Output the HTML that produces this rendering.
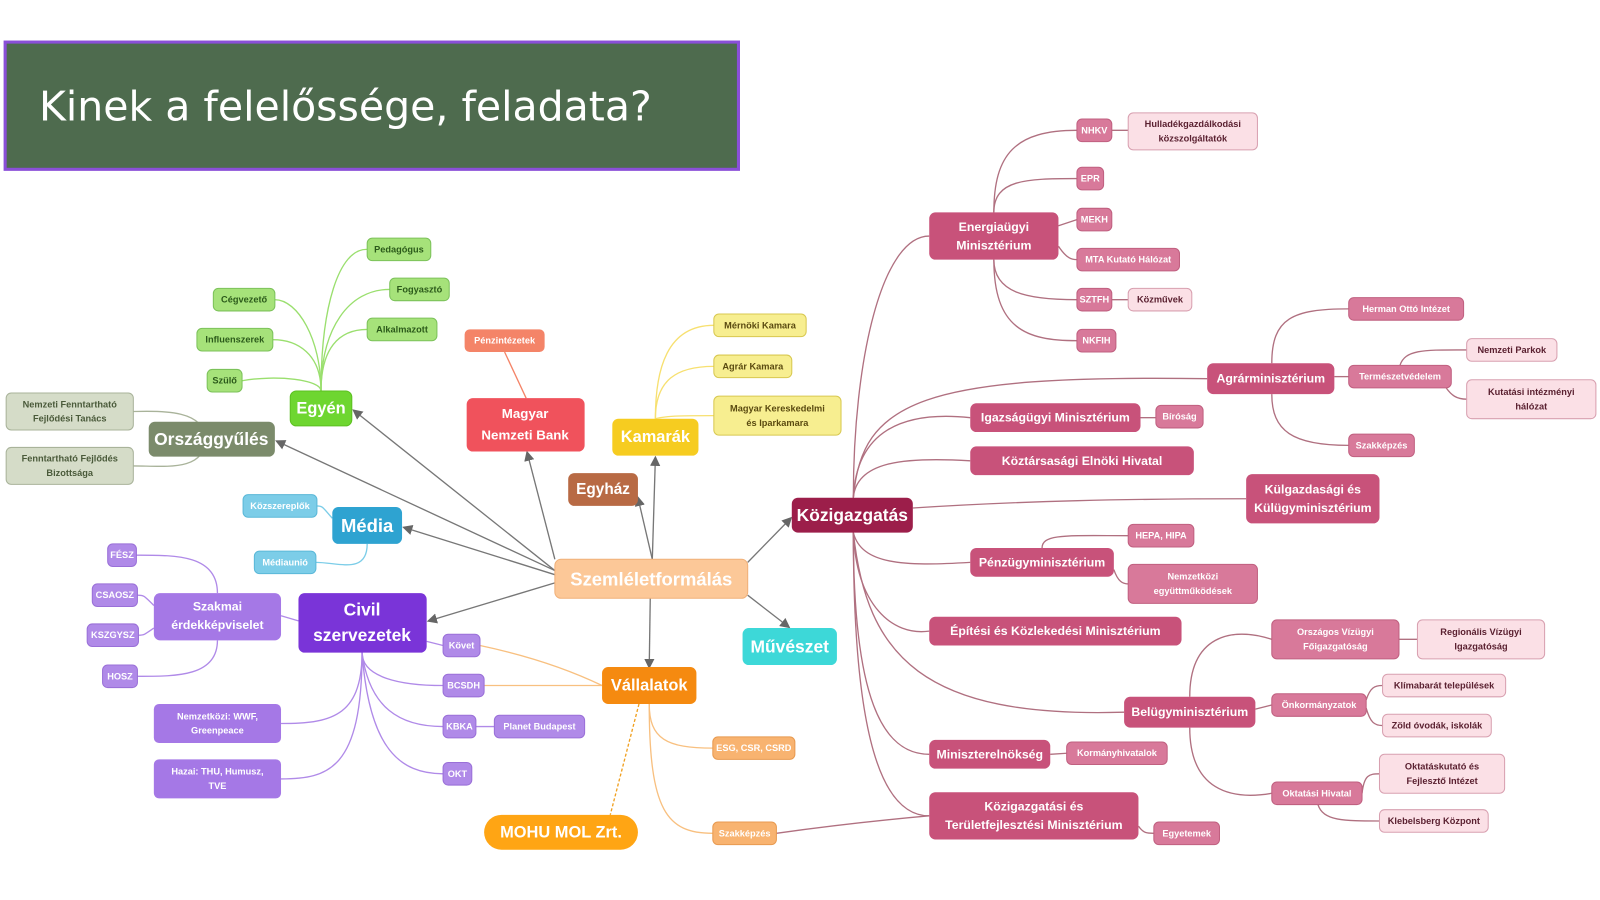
<!DOCTYPE html>
<html><head><meta charset="utf-8"><style>
html,body{margin:0;padding:0;background:#fff;width:1600px;height:900px;overflow:hidden}
svg text{font-family:"Liberation Sans","DejaVu Sans",sans-serif;font-weight:bold;text-anchor:middle;dominant-baseline:central}
</style></head><body>
<svg width="1600" height="900" viewBox="0 0 1560 877" preserveAspectRatio="none" xmlns="http://www.w3.org/2000/svg">
<defs><marker id="ar" markerWidth="10" markerHeight="10" refX="8" refY="5" orient="auto" markerUnits="userSpaceOnUse"><path d="M0,0 L10,5 L0,10 z" fill="#666"/></marker></defs>
<rect x="5" y="41" width="715" height="124" fill="#4e6b4e" stroke="#8a4fd8" stroke-width="3"/>
<text x="38" y="104" style="text-anchor:start;font-weight:normal;font-family:'DejaVu Sans','Liberation Sans',sans-serif" font-size="40" fill="#fff">Kinek a felelőssége, feladata?</text>

<g fill="none" stroke-width="1.3">
<!-- green -->
<g stroke="#9adf6e">
<path d="M313 381 C313 300,330 242,358 243"/><path d="M313 381 C313 320,340 282,380 282"/>
<path d="M313 381 C313 330,290 292,268 292"/><path d="M313 381 C313 340,330 321,358 321"/>
<path d="M313 381 C313 345,290 331,266 331"/><path d="M313 381 C313 370,270 365,236 371"/>
</g>
<g stroke="#a9b39a"><path d="M200 428 C200 400,160 400,130 401"/><path d="M200 428 C200 460,160 454,130 454"/></g>
<g stroke="#7ccde8"><path d="M324 505 C315 495,315 493,309 493"/><path d="M358 530 C358 560,330 548,308 548"/></g>
<g stroke="#b08ae8">
<path d="M212 578 C212 540,170 541,133 541"/><path d="M150 590 C140 580,140 580,134 580"/>
<path d="M150 612 C140 619,140 619,135 619"/><path d="M212 624 C212 660,170 659,134 659"/>
<path d="M274 600 L291 605"/>
<path d="M353 636 C353 700,320 705,274 705"/><path d="M353 636 C353 750,320 759,274 759"/>
<path d="M416 625 L432 629"/><path d="M353 636 C353 660,390 668,432 668"/>
<path d="M353 636 C360 690,390 708,432 708"/><path d="M353 636 C360 730,390 754,432 754"/>
<path d="M464 708 L482 708"/>
</g>
<g stroke="#f48468"><path d="M513 388 L492 343"/></g>
<g stroke="#f7e070"><path d="M639 408 C639 360,650 317,696 317"/><path d="M639 408 C639 370,660 357,696 357"/><path d="M639 408 C650 405,670 405,696 405"/></g>
<g stroke="#f8c080"><path d="M468 629 C520 640,560 655,587 668"/><path d="M472 668 L587 668"/>
<path d="M623 686 L595 794" stroke="#f0a020" stroke-dasharray="3 2"/>
<path d="M633 686 C633 720,650 729,695 729"/><path d="M633 686 C633 790,650 812,695 812"/></g>
<!-- pink -->
<g stroke="#b07080">
<path d="M832 485 C832 350,860 230,906 230"/>
<path d="M969 207 C969 150,990 127,1050 127"/><path d="M969 207 C969 175,1000 174,1050 174"/>
<path d="M1032 220 L1050 214"/><path d="M1032 240 C1040 252,1045 253,1050 253"/>
<path d="M969 253 C969 285,1000 292,1050 292"/><path d="M969 253 C969 320,1000 332,1050 332"/>
<path d="M1084 127 L1100 127"/><path d="M1084 292 L1100 292"/>
<path d="M832 485 C840 390,900 365,1177 369"/>
<path d="M1240 354 C1240 310,1260 301,1315 301"/><path d="M1301 367 L1315 367"/>
<path d="M1240 384 C1240 420,1260 434,1315 434"/>
<path d="M1365 356 C1370 340,1390 341,1430 341"/><path d="M1410 378 C1415 385,1420 389,1430 389"/>
<path d="M832 485 C835 420,880 400,946 407"/><path d="M1112 407 L1127 407"/>
<path d="M832 485 C835 450,880 445,946 449"/>
<path d="M890 495 C1000 488,1100 486,1215 486"/>
<path d="M832 519 C840 550,880 552,946 548"/>
<path d="M1016 534 C1016 520,1040 522,1100 522"/><path d="M1086 555 C1090 567,1095 569,1100 569"/>
<path d="M832 519 C835 590,870 620,906 615"/>
<path d="M832 519 C845 640,900 700,1096 694"/>
<path d="M1160 679 C1160 620,1200 610,1240 623"/><path d="M1224 691 L1240 687"/>
<path d="M1160 709 C1160 770,1200 780,1240 773"/>
<path d="M1332 682 C1336 670,1340 668,1348 668"/><path d="M1332 690 C1336 704,1340 707,1348 707"/>
<path d="M1364 623 L1382 623"/>
<path d="M1328 773 C1330 755,1335 754,1345 754"/><path d="M1285 784 C1290 800,1310 800,1345 800"/>
<path d="M832 519 C832 680,860 735,906 735"/><path d="M1024 735 L1040 734"/>
<path d="M832 519 C832 720,860 795,906 795"/><path d="M1110 805 C1115 812,1118 812,1125 812"/>
<path d="M757 812 C800 806,850 800,906 795"/>
</g>
</g>
<!-- gray arrows -->
<g stroke="#777" stroke-width="1.3" fill="none" marker-end="url(#ar)">
<path d="M541 556 L345 400"/><path d="M541 556 L270 430"/><path d="M541 560 L394 514"/>
<path d="M541 568 L418 605"/><path d="M541 545 L514 441"/><path d="M636 545 L622 485"/>
<path d="M636 545 L639 446"/><path d="M634 583 L633 650"/><path d="M729 580 L769 611"/>
<path d="M729 548 L771 505"/>
</g>

<g id="nodes">
<!-- helper style: rect + text -->
<g fill="#a6e27a" stroke="#7cc25a"><rect x="358" y="232" width="62" height="22" rx="5"/><rect x="380" y="271" width="58" height="22" rx="5"/><rect x="208" y="281" width="60" height="22" rx="5"/><rect x="358" y="310" width="68" height="22" rx="5"/><rect x="192" y="320" width="74" height="22" rx="5"/><rect x="202" y="360" width="34" height="22" rx="5"/></g>
<g fill="#2b5a1a" font-size="9"><text x="389" y="243">Pedagógus</text><text x="409" y="282">Fogyasztó</text><text x="238" y="292">Cégvezető</text><text x="392" y="321">Alkalmazott</text><text x="229" y="331">Influenszerek</text><text x="219" y="371">Szülő</text></g>
<rect x="283" y="381" width="60" height="34" rx="6" fill="#6ed630" stroke="#5cc020"/><text x="313" y="398" font-size="16" fill="#fff">Egyén</text>

<rect x="145" y="411" width="123" height="34" rx="6" fill="#7b8b6b"/><text x="206" y="428" font-size="17" fill="#fff">Országgyűlés</text>
<g fill="#d5dcc8" stroke="#a9b39a"><rect x="6" y="383" width="124" height="36" rx="5"/><rect x="6" y="436" width="124" height="36" rx="5"/></g>
<g fill="#4a5a3a" font-size="9"><text x="68" y="394">Nemzeti Fenntartható</text><text x="68" y="408">Fejlődési Tanács</text><text x="68" y="447">Fenntartható Fejlődés</text><text x="68" y="461">Bizottsága</text></g>

<rect x="324" y="494" width="68" height="36" rx="6" fill="#2ea3d1"/><text x="358" y="512" font-size="18" fill="#fff">Média</text>
<g fill="#7ccde8" stroke="#5ab8d8"><rect x="237" y="482" width="72" height="22" rx="5"/><rect x="248" y="537" width="60" height="22" rx="5"/></g>
<g fill="#fff" font-size="9"><text x="273" y="493">Közszereplők</text><text x="278" y="548">Médiaunió</text></g>

<rect x="291" y="578" width="125" height="58" rx="6" fill="#7a34d8"/><text x="353" y="594" font-size="17" fill="#fff">Civil</text><text x="353" y="619" font-size="17" fill="#fff">szervezetek</text>
<g fill="#a578e6"><rect x="150" y="578" width="124" height="46" rx="6"/><rect x="150" y="686" width="124" height="38" rx="5"/><rect x="150" y="740" width="124" height="38" rx="5"/></g>
<g fill="#fff" font-size="12"><text x="212" y="591">Szakmai</text><text x="212" y="609">érdekképviselet</text></g>
<g fill="#fff" font-size="9"><text x="212" y="698">Nemzetközi: WWF,</text><text x="212" y="712">Greenpeace</text><text x="212" y="752">Hazai: THU, Humusz,</text><text x="212" y="766">TVE</text></g>
<g fill="#b08ae8" stroke="#9a70d8"><rect x="105" y="530" width="28" height="22" rx="5"/><rect x="90" y="569" width="44" height="22" rx="5"/><rect x="85" y="608" width="50" height="22" rx="5"/><rect x="100" y="648" width="34" height="22" rx="5"/><rect x="432" y="618" width="36" height="22" rx="5"/><rect x="432" y="657" width="40" height="22" rx="5"/><rect x="432" y="697" width="32" height="22" rx="5"/><rect x="482" y="697" width="88" height="22" rx="5"/><rect x="432" y="743" width="28" height="22" rx="5"/></g>
<g fill="#fff" font-size="9"><text x="119" y="541">FÉSZ</text><text x="112" y="580">CSAOSZ</text><text x="110" y="619">KSZGYSZ</text><text x="117" y="659">HOSZ</text><text x="450" y="629">Követ</text><text x="452" y="668">BCSDH</text><text x="448" y="708">KBKA</text><text x="526" y="708">Planet Budapest</text><text x="446" y="754">OKT</text></g>

<rect x="455" y="388" width="115" height="52" rx="6" fill="#f0525c"/><text x="512" y="403" font-size="13" fill="#fff">Magyar</text><text x="512" y="424" font-size="13" fill="#fff">Nemzeti Bank</text>
<rect x="453" y="321" width="78" height="22" rx="5" fill="#f48468"/><text x="492" y="332" font-size="9" fill="#fff">Pénzintézetek</text>

<rect x="597" y="408" width="84" height="36" rx="6" fill="#f6cc20"/><text x="639" y="426" font-size="16" fill="#fff">Kamarák</text>
<g fill="#f7ee90" stroke="#d8c850"><rect x="696" y="306" width="90" height="22" rx="5"/><rect x="696" y="346" width="76" height="22" rx="5"/><rect x="696" y="386" width="124" height="38" rx="5"/></g>
<g fill="#5a4a10" font-size="9"><text x="741" y="317">Mérnöki Kamara</text><text x="734" y="357">Agrár Kamara</text><text x="758" y="398">Magyar Kereskedelmi</text><text x="758" y="412">és Iparkamara</text></g>

<rect x="554" y="461" width="68" height="32" rx="6" fill="#b86a44"/><text x="588" y="477" font-size="15" fill="#fff">Egyház</text>
<rect x="541" y="545" width="188" height="38" rx="6" fill="#fcc898" stroke="#f0b078"/><text x="635" y="564" font-size="18" fill="#fff">Szemléletformálás</text>
<rect x="724" y="612" width="92" height="36" rx="6" fill="#3dd8d8"/><text x="770" y="630" font-size="17" fill="#fff">Művészet</text>
<rect x="587" y="650" width="92" height="36" rx="6" fill="#f58a10"/><text x="633" y="668" font-size="16" fill="#fff">Vállalatok</text>
<rect x="472" y="794" width="150" height="34" rx="17" fill="#ffa514"/><text x="547" y="811" font-size="16" fill="#fff">MOHU MOL Zrt.</text>
<g fill="#f8b370" stroke="#e89a50"><rect x="695" y="718" width="80" height="22" rx="5"/><rect x="695" y="801" width="62" height="22" rx="5"/></g>
<g fill="#fff" font-size="9"><text x="735" y="729">ESG, CSR, CSRD</text><text x="726" y="812">Szakképzés</text></g>

<rect x="772" y="485" width="118" height="34" rx="6" fill="#9c1e4a"/><text x="831" y="502" font-size="17" fill="#fff">Közigazgatás</text>
<g fill="#c8527a">
<rect x="906" y="207" width="126" height="46" rx="6"/><rect x="1177" y="354" width="124" height="30" rx="6"/><rect x="946" y="393" width="166" height="28" rx="6"/><rect x="946" y="435" width="218" height="28" rx="6"/><rect x="1215" y="462" width="130" height="48" rx="6"/><rect x="946" y="534" width="140" height="28" rx="6"/><rect x="906" y="601" width="246" height="28" rx="6"/><rect x="1096" y="679" width="128" height="30" rx="6"/><rect x="906" y="721" width="118" height="28" rx="6"/><rect x="906" y="772" width="204" height="46" rx="6"/>
</g>
<g fill="#fff" font-size="12">
<text x="969" y="221">Energiaügyi</text><text x="969" y="239">Minisztérium</text><text x="1239" y="369">Agrárminisztérium</text><text x="1029" y="407">Igazságügyi Minisztérium</text><text x="1055" y="449">Köztársasági Elnöki Hivatal</text><text x="1280" y="477">Külgazdasági és</text><text x="1280" y="495">Külügyminisztérium</text><text x="1016" y="548">Pénzügyminisztérium</text><text x="1029" y="615">Építési és Közlekedési Minisztérium</text><text x="1160" y="694">Belügyminisztérium</text><text x="965" y="735">Miniszterelnökség</text><text x="1008" y="786">Közigazgatási és</text><text x="1008" y="804">Területfejlesztési Minisztérium</text>
</g>
<g fill="#d8799a" stroke="#c06080">
<rect x="1050" y="116" width="34" height="22" rx="5"/><rect x="1050" y="163" width="26" height="22" rx="5"/><rect x="1050" y="203" width="34" height="22" rx="5"/><rect x="1050" y="242" width="100" height="22" rx="5"/><rect x="1050" y="281" width="34" height="22" rx="5"/><rect x="1050" y="321" width="38" height="22" rx="5"/>
<rect x="1315" y="290" width="112" height="22" rx="5"/><rect x="1315" y="356" width="100" height="22" rx="5"/><rect x="1315" y="423" width="64" height="22" rx="5"/><rect x="1127" y="395" width="46" height="22" rx="5"/>
<rect x="1100" y="511" width="64" height="22" rx="5"/><rect x="1100" y="550" width="126" height="38" rx="5"/><rect x="1240" y="604" width="124" height="38" rx="5"/><rect x="1240" y="676" width="92" height="22" rx="5"/><rect x="1240" y="762" width="88" height="22" rx="5"/><rect x="1040" y="723" width="98" height="22" rx="5"/><rect x="1125" y="801" width="64" height="22" rx="5"/>
</g>
<g fill="#fff" font-size="9">
<text x="1067" y="127">NHKV</text><text x="1063" y="174">EPR</text><text x="1067" y="214">MEKH</text><text x="1100" y="253">MTA Kutató Hálózat</text><text x="1067" y="292">SZTFH</text><text x="1069" y="332">NKFIH</text>
<text x="1371" y="301">Herman Ottó Intézet</text><text x="1365" y="367">Természetvédelem</text><text x="1347" y="434">Szakképzés</text><text x="1150" y="406">Bíróság</text>
<text x="1132" y="522">HEPA, HIPA</text><text x="1163" y="562">Nemzetközi</text><text x="1163" y="576">együttműködések</text><text x="1302" y="616">Országos Vízügyi</text><text x="1302" y="630">Főigazgatóság</text><text x="1286" y="687">Önkormányzatok</text><text x="1284" y="773">Oktatási Hivatal</text><text x="1089" y="734">Kormányhivatalok</text><text x="1157" y="812">Egyetemek</text>
</g>
<g fill="#fbe0e6" stroke="#d8a0b0">
<rect x="1100" y="110" width="126" height="36" rx="5"/><rect x="1100" y="281" width="62" height="22" rx="5"/><rect x="1430" y="330" width="88" height="22" rx="5"/><rect x="1430" y="370" width="126" height="38" rx="5"/><rect x="1382" y="604" width="124" height="38" rx="5"/><rect x="1348" y="657" width="120" height="22" rx="5"/><rect x="1348" y="696" width="106" height="22" rx="5"/><rect x="1345" y="735" width="122" height="38" rx="5"/><rect x="1345" y="789" width="106" height="22" rx="5"/>
</g>
<g fill="#5a2030" font-size="9">
<text x="1163" y="121">Hulladékgazdálkodási</text><text x="1163" y="135">közszolgáltatók</text><text x="1131" y="292">Közművek</text><text x="1474" y="341">Nemzeti Parkok</text><text x="1493" y="382">Kutatási intézményi</text><text x="1493" y="396">hálózat</text><text x="1444" y="616">Regionális Vízügyi</text><text x="1444" y="630">Igazgatóság</text><text x="1408" y="668">Klímabarát települések</text><text x="1401" y="707">Zöld óvodák, iskolák</text><text x="1406" y="747">Oktatáskutató és</text><text x="1406" y="761">Fejlesztő Intézet</text><text x="1398" y="800">Klebelsberg Központ</text>
</g>
</g>
</svg>
</body></html>
